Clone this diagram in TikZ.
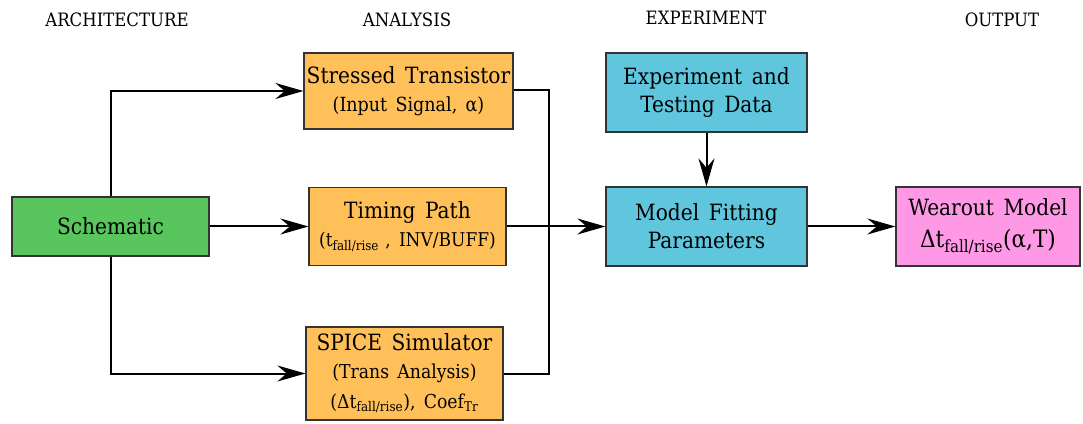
\documentclass[tikz,border=0pt]{standalone}
\usepackage{fontspec}
\setmainfont[WordSpace=1.5]{DejaVu Serif Condensed}
\usetikzlibrary{arrows.meta}
\definecolor{boxorange}{HTML}{FFC05A}
\definecolor{boxgreen}{HTML}{58C65C}
\definecolor{boxblue}{HTML}{5FC6DE}
\definecolor{boxpink}{HTML}{FF99E5}
\begin{document}
\begin{tikzpicture}[x=0.75pt,y=-0.75pt,
  box/.style={draw=black!80,line width=0.9pt,inner sep=0pt,align=center,font=\fontsize{16.8}{21}\selectfont},
  head/.style={font=\fontsize{13.8}{16}\selectfont},
  conn/.style={line width=1.5pt},
  arr/.style={conn,-{Stealth[length=21pt,width=12pt,inset=7pt]}}]
\useasboundingbox (0,0) rectangle (1083,424);
\node[head] (h1) at (117,20) {ARCHITECTURE};
\node[head] (h2) at (407,20) {ANALYSIS};
\node[head] (h3) at (706,18) {EXPERIMENT};
\node[head] (h4) at (1002,20) {OUTPUT};

\node[box,fill=boxgreen,minimum width=147.75pt,minimum height=44.25pt] (sch) at (110.5,226.5) {Schematic};
\node[box,fill=boxorange,minimum width=156.75pt,minimum height=57pt] (st) at (408.5,91) {Stressed Transistor\\[0pt]{\fontsize{14.6}{18}\selectfont (Input Signal, α)}};
\node[box,fill=boxorange,minimum width=147.75pt,minimum height=58.5pt] (tp) at (407.5,226.5) {Timing Path\\[0pt]{\fontsize{14.2}{18}\selectfont (t\textsubscript{fall/rise}\,\,, INV/BUFF)}};
\node[box,fill=boxorange,minimum width=147.75pt,minimum height=69.75pt] (sp) at (404.5,373.5) {SPICE Simulator\\[0pt]{\fontsize{14.4}{18}\selectfont (Trans Analysis)}\\[1pt]{\fontsize{14.4}{18}\selectfont (Δt\textsubscript{fall/rise}), Coef\textsubscript{Tr}}};
\node[box,fill=boxblue,minimum width=150.75pt,minimum height=59.25pt] (ex) at (706.5,92.5) {Experiment and\\Testing Data};
\node[box,fill=boxblue,minimum width=150.75pt,minimum height=59.25pt] (mf) at (706.5,226.5) {Model Fitting\\Parameters};
\node[box,fill=boxpink,minimum width=138pt,minimum height=59.25pt] (wo) at (988,226.5) {Wearout Model\\[3pt]{\fontsize{18}{21}\selectfont Δt\textsubscript{fall/rise}(α,T)}};

\coordinate (j1) at (549,90);
\coordinate (j2) at (549,373.5);
\draw[arr] (sch.north) |- (st.west);
\draw[arr] (sch.east) -- (tp.west);
\draw[arr] (sch.south) |- (sp.west);
\draw[conn] (st.east |- j1) -- (j1) -- (j2) -- (sp.east);
\draw[arr] (tp.east) -- (mf.west);
\draw[arr] (ex.south) -- (mf.north);
\draw[arr] (mf.east) -- (wo.west);
\end{tikzpicture}
\end{document}
